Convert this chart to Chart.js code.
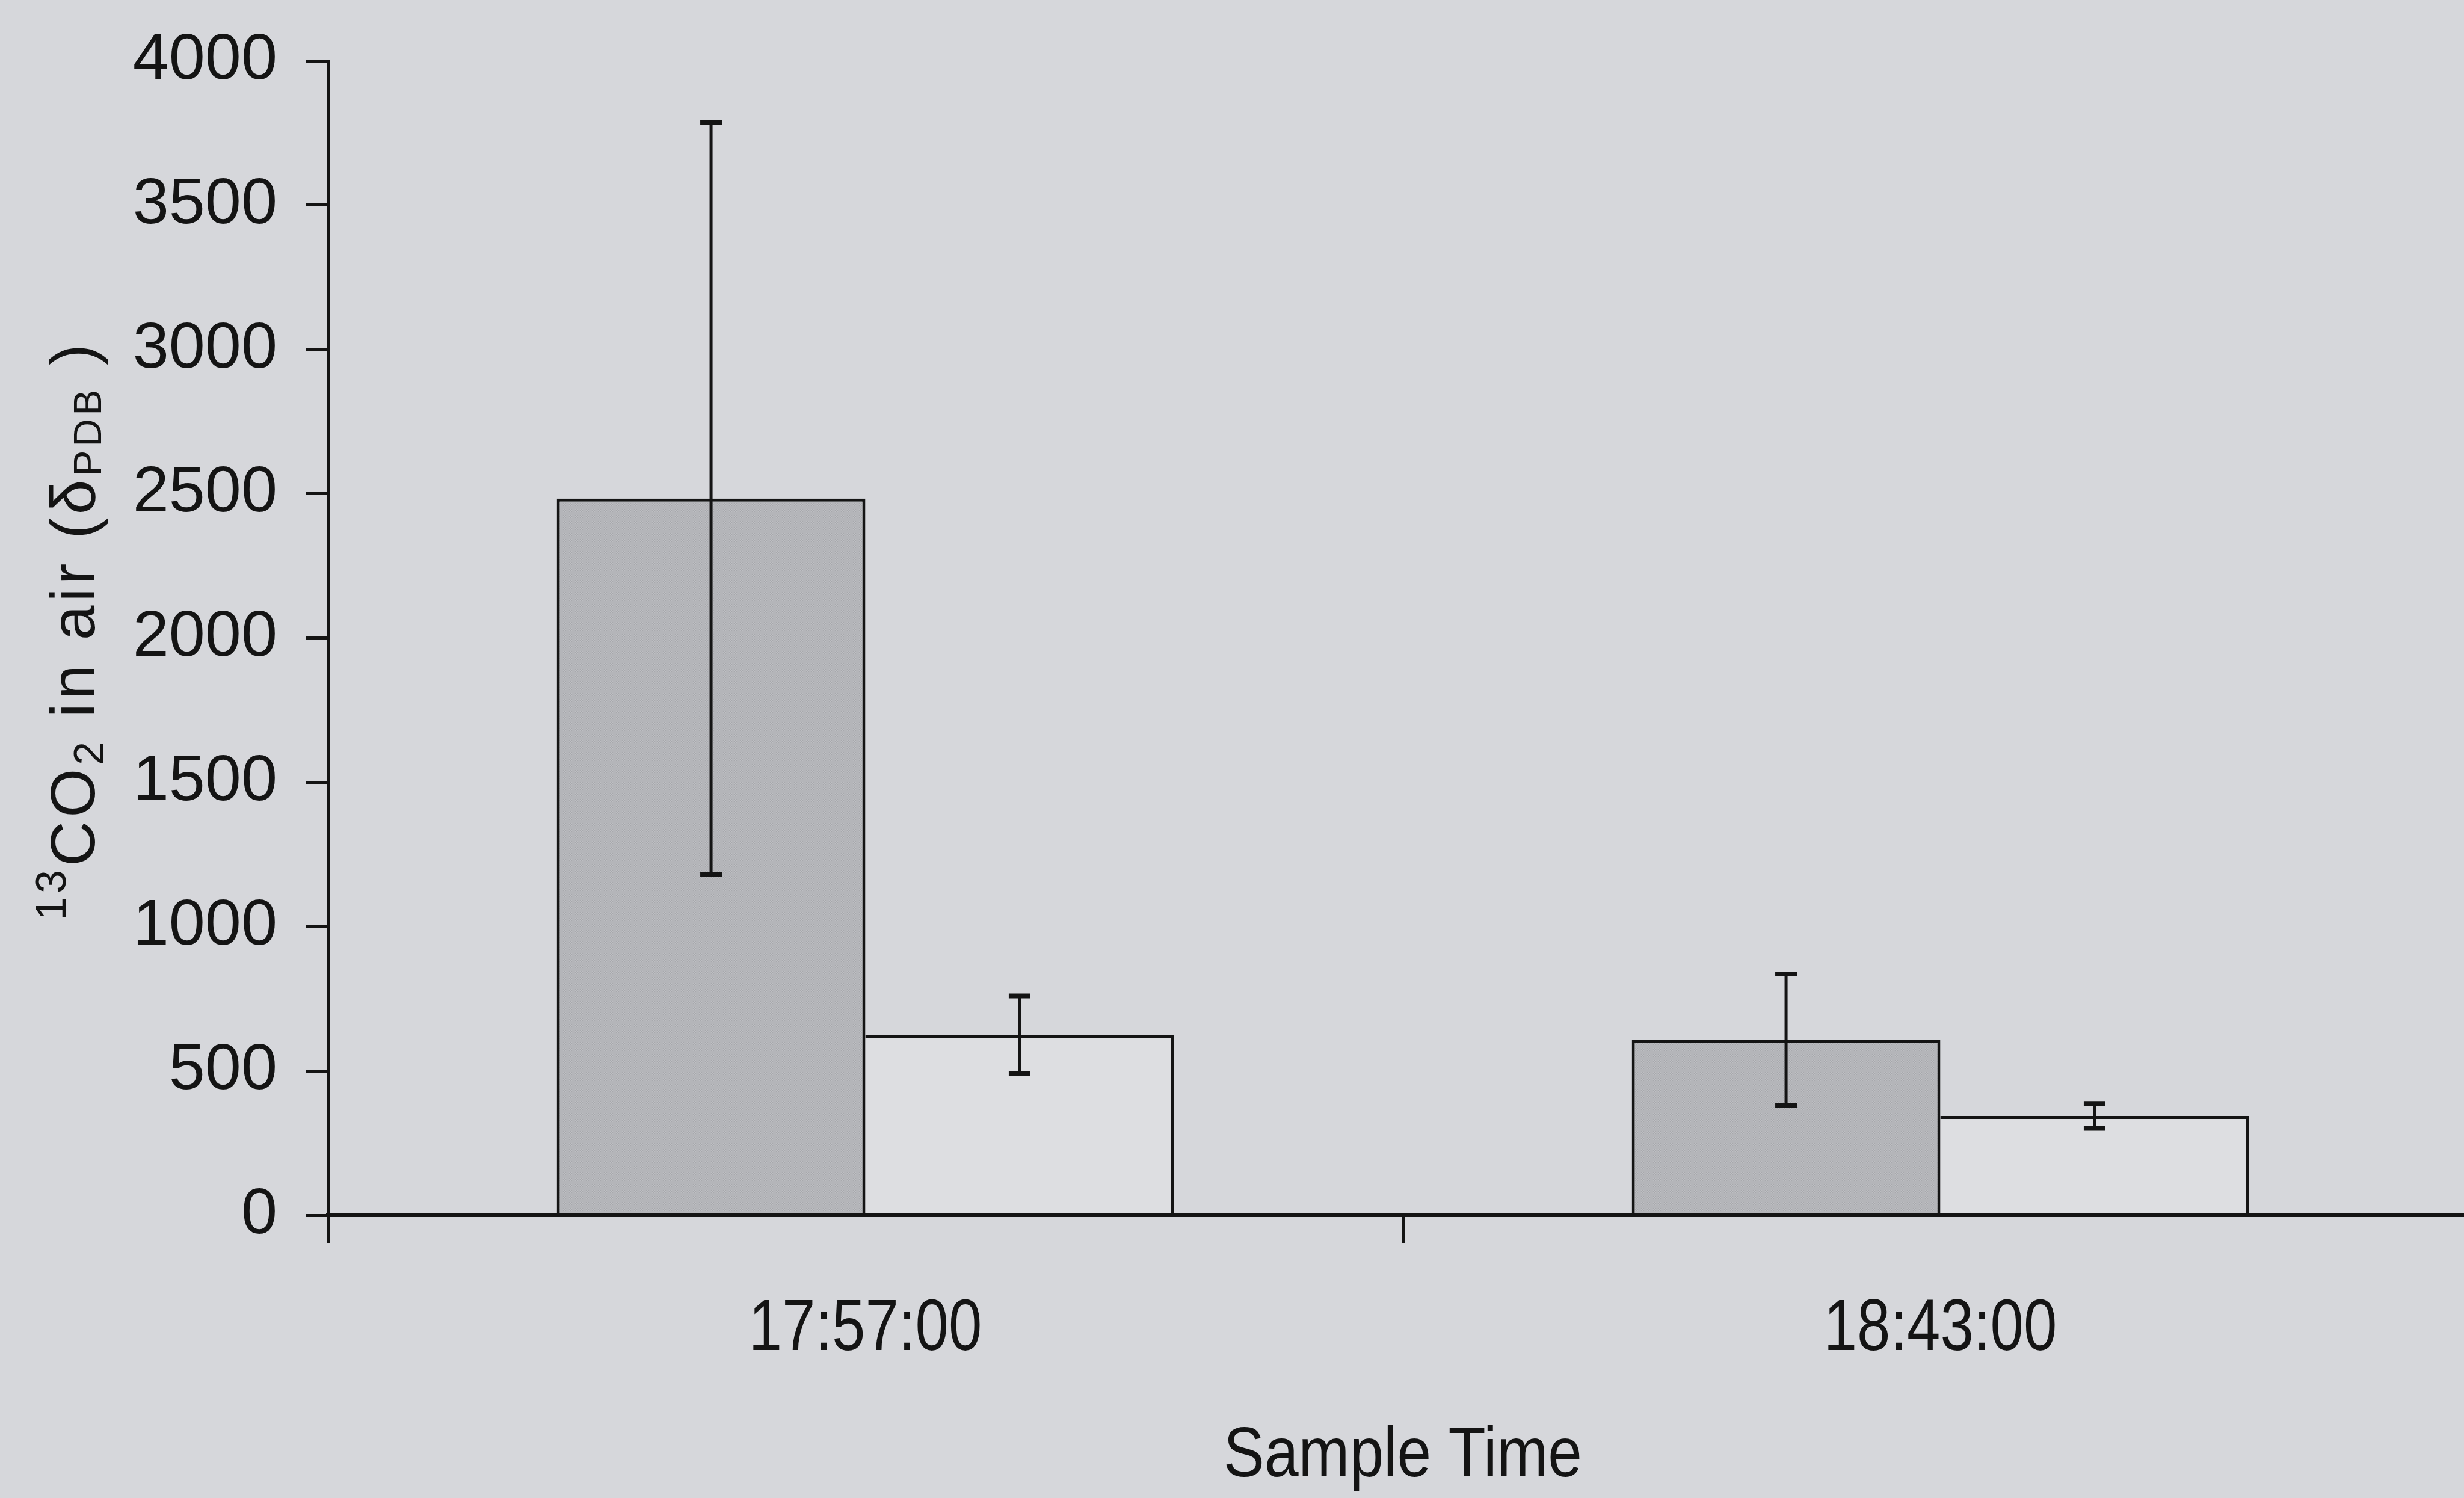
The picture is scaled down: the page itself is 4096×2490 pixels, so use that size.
<!DOCTYPE html>
<html>
<head>
<meta charset="utf-8">
<script src="https://cdn.jsdelivr.net/npm/chart.js@4.4.1/dist/chart.umd.min.js"></script>
<style>
  html, body { margin: 0; padding: 0; background: #d6d7db; overflow: hidden; }
  #wrap { width: 4096px; height: 2490px; overflow: hidden; }
  canvas { display: block; }
</style>
</head>
<body>
<div id="wrap"><canvas id="chart" width="4130" height="2490"></canvas></div>
<script>
// sample times on the x axis
const sampleTimes = ["17:57:00", "18:43:00"];
// grey series: mean and +/- error
const greyValues = [2483, 608];
const greyErrors = [1303, 228];
// white series: mean and +/- error
const whiteValues = [625, 344];
const whiteErrors = [135, 43];
// y axis ticks
const yTickValues = [0, 500, 1000, 1500, 2000, 2500, 3000, 3500, 4000];

const ink = "#141414";
const font = "'Liberation Sans', Arial, sans-serif";

// fine stipple for the grey bars
function stipple() {
  const c = document.createElement("canvas");
  c.width = 4;
  c.height = 4;
  const g = c.getContext("2d");
  g.fillStyle = "#b4b5b9";
  g.fillRect(0, 0, 4, 4);
  g.fillStyle = "#a7a8ac";
  g.fillRect(0, 0, 1, 1);
  g.fillRect(2, 2, 1, 1);
  g.fillStyle = "#bebfc3";
  g.fillRect(2, 0, 1, 1);
  g.fillRect(0, 2, 1, 1);
  return g.createPattern(c, "repeat");
}

// vertical error bars with caps, drawn over the bars
const errorBars = {
  id: "errorBars",
  afterDatasetsDraw(chart) {
    const { ctx } = chart;
    const y = chart.scales.y;
    ctx.save();
    ctx.strokeStyle = ink;
    chart.data.datasets.forEach((ds, i) => {
      chart.getDatasetMeta(i).data.forEach((bar, j) => {
        const top = y.getPixelForValue(ds.data[j] + ds.errors[j]);
        const bot = y.getPixelForValue(ds.data[j] - ds.errors[j]);
        ctx.lineWidth = 5;
        ctx.beginPath();
        ctx.moveTo(bar.x, top);
        ctx.lineTo(bar.x, bot);
        ctx.stroke();
        ctx.lineWidth = 8;
        ctx.beginPath();
        ctx.moveTo(bar.x - 18, top);
        ctx.lineTo(bar.x + 18, top);
        ctx.moveTo(bar.x - 18, bot);
        ctx.lineTo(bar.x + 18, bot);
        ctx.stroke();
      });
    });
    ctx.restore();
  }
};

// x labels and x title, set in a narrow face
const xText = {
  id: "xText",
  afterDraw(chart) {
    const { ctx, chartArea } = chart;
    const x = chart.scales.x;
    ctx.save();
    ctx.fillStyle = ink;
    ctx.textAlign = "center";
    ctx.textBaseline = "middle";
    ctx.font = "120px " + font;
    x.ticks.forEach((t, i) => {
      ctx.save();
      ctx.translate(x.getPixelForTick(i), x.top + 191);
      ctx.scale(0.83, 1);
      ctx.fillText(x.getLabelForValue(t.value), 0, 0);
      ctx.restore();
    });
    ctx.font = "117px " + font;
    ctx.translate((chartArea.left + chartArea.right) / 2, x.top + 402);
    ctx.scale(0.87, 1);
    ctx.fillText("Sample Time", 0, 0);
    ctx.restore();
  }
};

// rotated y title with super/subscripts
const yTitle = {
  id: "yTitle",
  afterDraw(chart) {
    const { ctx } = chart;
    const parts = [
      { t: "13", size: 70, shift: -48 },
      { t: "CO", size: 104, shift: 0 },
      { t: "2", size: 70, shift: 15 },
      { t: " in air (", size: 104, shift: 0 },
      { t: "δ", size: 104, shift: 0 },
      { t: "PDB", size: 64, shift: 11 },
      { t: " )", size: 104, shift: 0 }
    ];
    ctx.save();
    ctx.fillStyle = ink;
    ctx.textBaseline = "alphabetic";
    ctx.letterSpacing = "6px";
    let total = 0;
    parts.forEach(p => {
      ctx.font = p.size + "px " + font;
      p.w = ctx.measureText(p.t).width;
      total += p.w;
    });
    ctx.translate(157, 1048);
    ctx.rotate(-Math.PI / 2);
    let pos = -total / 2;
    parts.forEach(p => {
      ctx.font = p.size + "px " + font;
      ctx.fillText(p.t, pos, p.shift);
      pos += p.w;
    });
    ctx.restore();
  }
};

new Chart(document.getElementById("chart"), {
  type: "bar",
  data: {
    labels: sampleTimes,
    datasets: [
      {
        data: greyValues,
        errors: greyErrors,
        backgroundColor: stipple(),
        borderColor: ink,
        borderWidth: { top: 5, left: 5, right: 5, bottom: 0 },
        barPercentage: 1,
        categoryPercentage: 0.574
      },
      {
        data: whiteValues,
        errors: whiteErrors,
        backgroundColor: "#dddee1",
        borderColor: ink,
        borderWidth: { top: 5, left: 0, right: 5, bottom: 0 },
        barPercentage: 1,
        categoryPercentage: 0.574
      }
    ]
  },
  options: {
    responsive: false,
    animation: false,
    devicePixelRatio: 1,
    layout: { padding: { top: 90, right: 11, left: 0, bottom: 0 } },
    plugins: {
      legend: { display: false },
      tooltip: { enabled: false }
    },
    scales: {
      x: {
        grid: {
          drawOnChartArea: false,
          offset: true,
          tickLength: 46,
          tickWidth: 5,
          tickColor: ink
        },
        border: { display: true, color: ink, width: 6, z: 1 },
        ticks: { display: false },
        afterFit(scale) { scale.height = 470; }
      },
      y: {
        min: 0,
        max: 4000,
        afterBuildTicks(scale) {
          scale.ticks = yTickValues.map(v => ({ value: v }));
        },
        ticks: {
          color: ink,
          padding: 47,
          callback: v => String(v),
          font: { family: font, size: 108, lineHeight: 1 }
        },
        grid: {
          drawOnChartArea: false,
          tickLength: 37,
          tickWidth: 5,
          tickColor: ink
        },
        border: { display: true, color: ink, width: 5 },
        afterFit(scale) { scale.width = 545; }
      }
    }
  },
  plugins: [errorBars, xText, yTitle]
});
</script>
</body>
</html>
